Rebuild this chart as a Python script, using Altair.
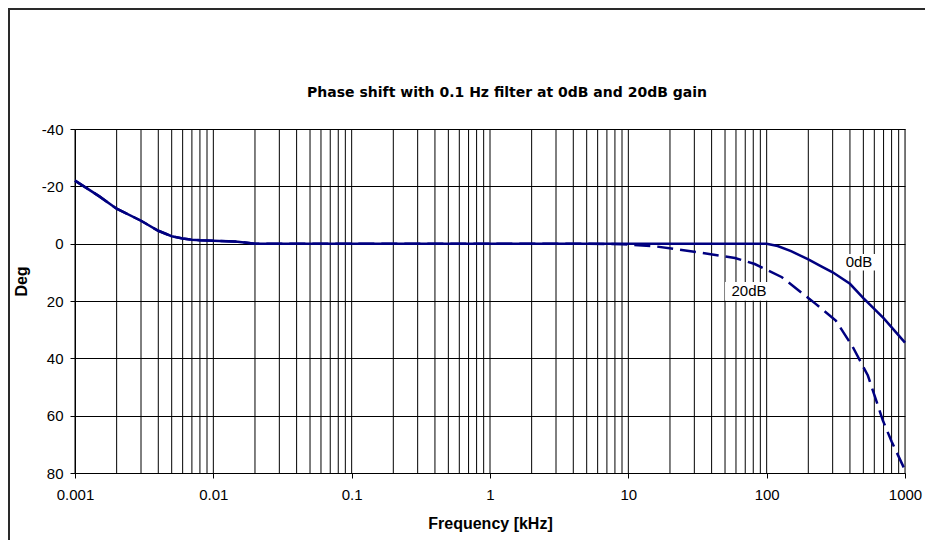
import altair as alt
import pandas as pd

# ---- data ----
freq_0db = [0.001, 0.0015, 0.002, 0.003, 0.004, 0.005, 0.006, 0.007, 0.008, 0.01, 0.015, 0.02,
            0.1, 1, 10, 100, 120, 150, 200, 250, 300, 400, 500, 700, 1000]
deg_0db = [-22, -16.5, -12.2, -8, -4.5, -2.6, -1.8, -1.4, -1.2, -1.0, -0.7, 0,
           0, 0, 0, 0, 0.8, 2.6, 5.5, 8, 10, 14, 19, 26, 34.5]

freq_20db = [0.001, 0.0015, 0.002, 0.003, 0.004, 0.005, 0.006, 0.007, 0.008, 0.01, 0.015, 0.02,
             0.1, 1, 5, 9, 16, 32, 59, 82, 129, 226, 316, 419, 539, 692, 800, 1000]
deg_20db = [-22, -16.5, -12.2, -8, -4.5, -2.6, -1.8, -1.4, -1.2, -1.0, -0.7, 0,
            0, 0, 0, 0.2, 1.0, 3.0, 5.0, 7.1, 11.7, 21, 26.8, 36, 46, 61.7, 69, 79]

decade_ticks = [0.001, 0.01, 0.1, 1, 10, 100, 1000]
grid_x = [m * 10.0 ** e for e in range(-3, 3) for m in range(1, 10)] + [1000]
y_ticks = [-40, -20, 0, 20, 40, 60, 80]

label_text = ["0dB", "20dB"]
label_f = [465, 74.5]
label_deg = [6.5, 16.5]
box_f1 = [351, 50]
box_f2 = [617, 113]
box_d1 = [3.6, 13.4]
box_d2 = [9.4, 19.9]

title_text = ["Phase shift with 0.1 Hz filter at 0dB and 20dB gain"]

NAVY = "#000080"

df0 = pd.DataFrame({"f": freq_0db, "deg": deg_0db})
df20 = pd.DataFrame({"f": freq_20db, "deg": deg_20db})
dfgrid = pd.DataFrame({"f": grid_x})
dflab = pd.DataFrame({"t": label_text, "f": label_f, "deg": label_deg,
                      "f1": box_f1, "f2": box_f2, "d1": box_d1, "d2": box_d2})
dftitle = pd.DataFrame({"t": title_text})

xscale = alt.Scale(type="log", domain=[0.001, 1000], nice=False)
yscale = alt.Scale(domain=[-40, 80], reverse=True, nice=False, zero=False)

xaxis = alt.Axis(values=decade_ticks, grid=False, tickSize=5, tickColor="black",
                 domainColor="black", labelPadding=9, labelFont="Liberation Sans",
                 labelFontSize=15, labelColor="black", labelFlush=False,
                 labelExpr="datum.value >= 1 ? format(datum.value, 'd') : format(datum.value, '.3~f')",
                 title="Frequency [kHz]", titleFont="Liberation Sans", titleFontSize=16,
                 titleFontWeight="bold", titleColor="black", titlePadding=13)
yaxis = alt.Axis(values=y_ticks, grid=True, gridColor="black", gridOpacity=1, gridWidth=1,
                 tickSize=5, tickColor="black", domainColor="black", labelPadding=7,
                 labelFont="Liberation Sans", labelFontSize=15, labelColor="black",
                 labelExpr="'' + datum.value",
                 title="Deg", titleFont="Liberation Sans", titleFontSize=16,
                 titleFontWeight="bold", titleColor="black",
                 titleX=-54, titleY=152, titleAngle=270, titleAlign="center",
                 titleBaseline="middle")

base_x = alt.X("f:Q", scale=xscale, axis=xaxis)
base_y = alt.Y("deg:Q", scale=yscale, axis=yaxis)

grid = alt.Chart(dfgrid).mark_rule(color="black", strokeWidth=1).encode(
    x=alt.X("f:Q", scale=xscale),
)

line0 = alt.Chart(df0).mark_line(color=NAVY, strokeWidth=2.5).encode(x=base_x, y=base_y)
line20 = alt.Chart(df20).mark_line(color=NAVY, strokeWidth=2.5, strokeDash=[16, 7]).encode(
    x=alt.X("f:Q", scale=xscale), y=alt.Y("deg:Q", scale=yscale))

boxes = alt.Chart(dflab).mark_rect(fill="white").encode(
    x=alt.X("f1:Q", scale=xscale), x2="f2:Q",
    y=alt.Y("d1:Q", scale=yscale), y2="d2:Q")
texts = alt.Chart(dflab).mark_text(font="Liberation Sans", fontSize=15, color="black",
                                   baseline="middle", align="center").encode(
    x=alt.X("f:Q", scale=xscale), y=alt.Y("deg:Q", scale=yscale), text="t:N")

title = alt.Chart(dftitle).mark_text(font="DejaVu Sans", fontSize=14, fontWeight="bold",
                                     color="black", align="center",
                                     baseline="alphabetic").encode(
    x=alt.value(432), y=alt.value(-32), text="t:N")

frame = alt.Chart(dftitle).mark_rect(fill="transparent", stroke="#2a2a2a", strokeWidth=2).encode(
    x=alt.value(-66), x2=alt.value(1200), y=alt.value(-120), y2=alt.value(700))

chart = alt.layer(grid, line0, line20, boxes, texts, title, frame).properties(
    width=830, height=344,
    padding={"left": 67, "top": 121, "right": 20, "bottom": 67},
    autosize=alt.AutoSizeParams(type="none"),
).configure_view(stroke=None).configure(background="white")

chart.save("out.html", embed_options={"renderer": "svg", "actions": False})
